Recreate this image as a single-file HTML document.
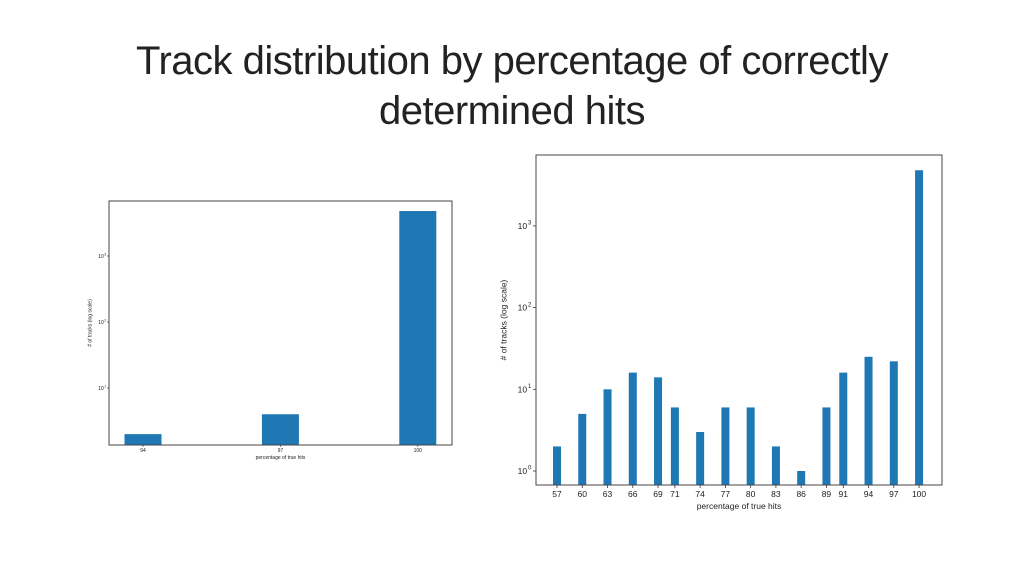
<!DOCTYPE html>
<html><head><meta charset="utf-8"><style>
body{margin:0;width:1024px;height:576px;background:#fff;overflow:hidden;font-family:"Liberation Sans",sans-serif}
h1{position:absolute;left:0;top:36px;width:1024px;margin:0;text-align:center;font-weight:normal;font-size:40px;line-height:50px;color:#222;font-family:"Liberation Sans",sans-serif;letter-spacing:-0.5px}
</style></head><body>
<h1>Track distribution by percentage of correctly<br>determined hits</h1>
<svg id="c" width="1024" height="576" style="position:absolute;left:0;top:0"></svg>
<script>
const leftCats=[94,97,100];
const leftVals=[2,4,4800];
const rightCats=[57,60,63,66,69,71,74,77,80,83,86,89,91,94,97,100];
const rightVals=[2,5,10,16,14,6,3,6,6,2,1,6,16,25,22,4800];
const yTickLabels=["10","10","10","10"];
const yTickExps=[0,1,2,3];
const svg=document.getElementById('c');
const NS='http://www.w3.org/2000/svg';
function mk(t,a,p){const e=document.createElementNS(NS,t);for(const k in a)e.setAttribute(k,a[k]);(p||svg).appendChild(e);return e;}
function chart(o){
  const g=mk('g',{});
  
  
  const xs=v=>o.x0+(v-o.v0)*o.xk;
  const ys=v=>o.y0-Math.log10(v)*o.dec;
  o.cats.forEach((c,i)=>{
    const b=mk('rect',{x:xs(c)-o.bw/2,y:ys(o.vals[i]),width:o.bw,height:o.bottom-ys(o.vals[i]),fill:'#1f77b4'},g);
    
    
    mk('line',{x1:xs(c),x2:xs(c),y1:o.bottom,y2:o.bottom+o.fs*0.35,stroke:'#333','stroke-width':0.8},g);
    const t=mk('text',{x:xs(c),y:o.bottom+o.fs*1.4,'font-size':o.fs,'text-anchor':'middle',fill:'#222'},g);
    t.textContent=c;
    
    
  });
  yTickExps.forEach((e,i)=>{
    const y=ys(Math.pow(10,e));
    if(y<o.top||y>o.bottom)return;
    mk('line',{x1:o.left-o.fs*0.35,x2:o.left,y1:y,y2:y,stroke:'#333','stroke-width':0.8},g);
    const t=mk('text',{x:o.left-o.fs*1.6,y:y+o.fs*0.35,'font-size':o.fs,'text-anchor':'middle',fill:'#222'},g);
    t.textContent=yTickLabels[i];
    
    
    const s=mk('text',{x:o.left-o.fs*0.75,y:y-o.fs*0.15,'font-size':o.fs*0.7,'text-anchor':'middle',fill:'#222'},g);
    s.textContent=e;
  });
  mk('rect',{x:o.left,y:o.top,width:o.right-o.left,height:o.bottom-o.top,fill:'none',stroke:'#444','stroke-width':o.sw},g);
  const xl=mk('text',{x:(o.left+o.right)/2,y:o.bottom+o.fs*2.8,'font-size':o.fs,'text-anchor':'middle',fill:'#222'},g);
  xl.textContent='percentage of true hits';
  
  
  const yx=o.left-o.fs*3.5,yy=(o.top+o.bottom)/2;
  const yl=mk('text',{x:yx,y:yy,'font-size':o.fs,'text-anchor':'middle',fill:'#222',transform:`rotate(-90 ${yx} ${yy})`},g);
  yl.textContent='# of tracks (log scale)';
  
  
}
chart({name:'left-chart',cats:leftCats,vals:leftVals,left:109,right:452,top:201,bottom:445,x0:143,v0:94,xk:45.8,bw:37,y0:454,dec:66,fs:5,sw:1});
chart({name:'right-chart',cats:rightCats,vals:rightVals,left:536,right:942,top:155,bottom:485,x0:557,v0:57,xk:8.42,bw:8,y0:471,dec:81.7,fs:8.5,sw:1});
</script>
</body></html>
